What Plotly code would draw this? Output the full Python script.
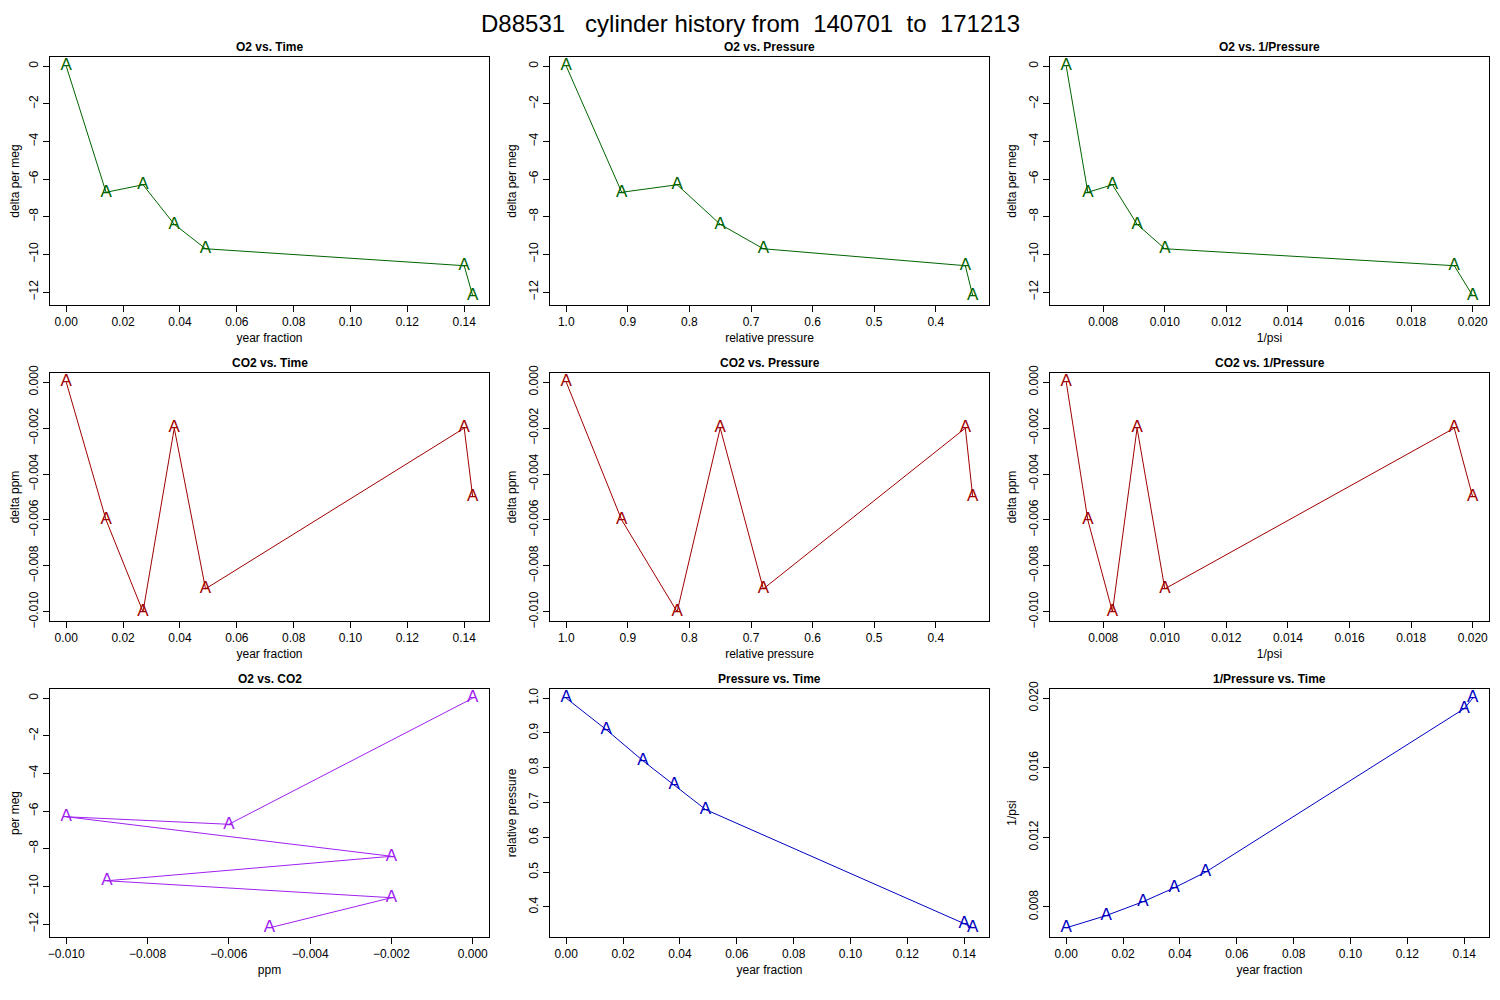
import plotly.graph_objects as go

year_fraction = [0.0, 0.014, 0.027, 0.038, 0.049, 0.140, 0.143]
o2_delta = [0.0, -6.7, -6.3, -8.4, -9.7, -10.6, -12.2]
co2_delta = [0.0, -0.006, -0.010, -0.002, -0.009, -0.002, -0.005]
rel_pressure = [1.0, 0.91, 0.82, 0.75, 0.68, 0.352, 0.34]
inv_psi = [0.0068, 0.0075, 0.0083, 0.0091, 0.0100, 0.0194, 0.0200]

GREEN = "#006400"
RED = "#a00000"
PURPLE = "#a020f0"
BLUE = "#0000c0"

# (title, x, y, color, xlabel, ylabel, xfmt, yfmt, xdtick, ydtick, xrev)
panels = [
    ("O2 vs. Time", year_fraction, o2_delta, GREEN, "year fraction", "delta per meg", ".2f", "d", 0.02, 2, False),
    ("O2 vs. Pressure", rel_pressure, o2_delta, GREEN, "relative pressure", "delta per meg", ".1f", "d", 0.1, 2, True),
    ("O2 vs. 1/Pressure", inv_psi, o2_delta, GREEN, "1/psi", "delta per meg", ".3f", "d", 0.002, 2, False),
    ("CO2 vs. Time", year_fraction, co2_delta, RED, "year fraction", "delta ppm", ".2f", ".3f", 0.02, 0.002, False),
    ("CO2 vs. Pressure", rel_pressure, co2_delta, RED, "relative pressure", "delta ppm", ".1f", ".3f", 0.1, 0.002, True),
    ("CO2 vs. 1/Pressure", inv_psi, co2_delta, RED, "1/psi", "delta ppm", ".3f", ".3f", 0.002, 0.002, False),
    ("O2 vs. CO2", co2_delta, o2_delta, PURPLE, "ppm", "per meg", ".3f", "d", 0.002, 2, False),
    ("Pressure vs. Time", year_fraction, rel_pressure, BLUE, "year fraction", "relative pressure", ".2f", ".1f", 0.02, 0.1, False),
    ("1/Pressure vs. Time", year_fraction, inv_psi, BLUE, "year fraction", "1/psi", ".2f", ".3f", 0.02, 0.004, False),
]

# the page body has an 8px margin, so the figure is drawn 8px in from the corner
OFF = 8
W, H = 1484, 984
col_px = [(50 - OFF, 489 - OFF), (550 - OFF, 989 - OFF), (1050 - OFF, 1489 - OFF)]
row_px = [(57 - OFF, 305 - OFF), (373 - OFF, 621 - OFF), (689 - OFF, 937 - OFF)]


def padded(v, rev=False):
    lo, hi = min(v), max(v)
    d = (hi - lo) * 0.04
    r = [lo - d, hi + d]
    return r[::-1] if rev else r


fig = go.Figure()
font = "Liberation Sans, Arial, sans-serif"
annotations = []

for i, (title, x, y, color, xl, yl, xf, yf, xd, yd, xrev) in enumerate(panels):
    r, c = divmod(i, 3)
    n = i + 1
    xa = "x" if n == 1 else f"x{n}"
    ya = "y" if n == 1 else f"y{n}"
    fig.add_trace(go.Scatter(
        x=x, y=y, mode="lines+text", text=["A"] * len(x),
        textposition="middle center",
        textfont=dict(color=color, size=17, family=font),
        line=dict(color=color, width=1), xaxis=xa, yaxis=ya,
        showlegend=False, cliponaxis=False))
    x0, x1 = col_px[c]
    y0, y1 = row_px[r]
    common = dict(showline=True, linecolor="black", mirror=True, ticks="outside",
                  ticklen=6, tickcolor="black", showgrid=False, zeroline=False,
                  automargin=False,
                  tickfont=dict(size=12, family=font, color="black"),
                  title_font=dict(size=12, family=font, color="black"))
    fig.layout["xaxis" if n == 1 else f"xaxis{n}"] = dict(
        domain=[x0 / W, x1 / W], anchor=ya, range=padded(x, xrev),
        dtick=xd, tickformat=xf, title=dict(text=xl, standoff=5), **common)
    fig.layout["yaxis" if n == 1 else f"yaxis{n}"] = dict(
        domain=[1 - y1 / H, 1 - y0 / H], anchor=xa, range=padded(y),
        dtick=yd, tickformat=yf, tickangle=-90, title=dict(text=yl, standoff=8), **common)
    annotations.append(dict(text=f"<b>{title}</b>", x=(x0 + x1) / 2 / W, y=1 - (y0 - 10) / H,
                            xref="paper", yref="paper", showarrow=False,
                            xanchor="center", yanchor="middle",
                            font=dict(size=12, family=font, color="black")))

annotations.append(dict(text="D88531   cylinder history from  140701  to  171213",
                        x=(750 - OFF) / W, y=1, xref="paper", yref="paper",
                        showarrow=False, xanchor="center", yanchor="top",
                        font=dict(size=24, family=font, color="black")))

fig.update_layout(width=W, height=H, margin=dict(l=0, r=0, t=0, b=0, autoexpand=False),
                  plot_bgcolor="white", paper_bgcolor="white",
                  annotations=annotations)

fig.write_html("out.html")
